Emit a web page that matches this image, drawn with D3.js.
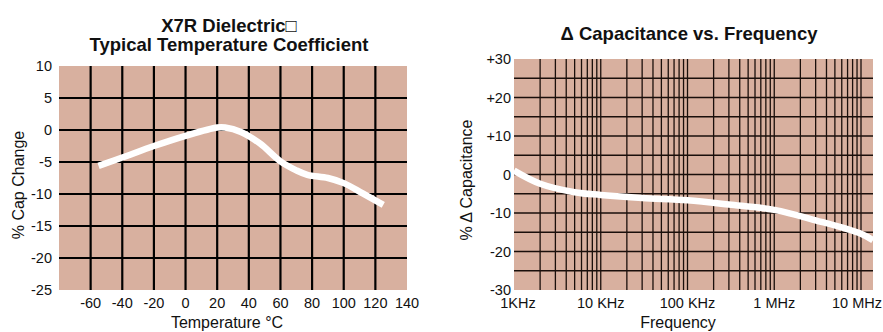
<!DOCTYPE html>
<html>
<head>
<meta charset="utf-8">
<script src="https://cdn.jsdelivr.net/npm/d3@7"></script>
<style>
  body { margin: 0; background: #fff; }
  text { font-family: "Liberation Sans", Arial, Helvetica, sans-serif; fill: #111; }
</style>
</head>
<body>
<svg id="chart" width="883" height="332"></svg>
<script>
// X7R temperature coefficient (left)
const tempC = [-55, -40, -20, 0, 20, 25, 35, 47, 60, 70, 77, 90, 100, 112, 125];
const capChange = [-5.6, -4.3, -2.5, -0.9, 0.4, 0.4, -0.3, -2.1, -4.9, -6.3, -7.0, -7.5, -8.3, -9.9, -11.7];
const tempTicks = [-60, -40, -20, 0, 20, 40, 60, 80, 100, 120, 140];
const capTicks = [10, 5, 0, -5, -10, -15, -20, -25];

// capacitance vs frequency (right)
const freqHz = [1e3, 2e3, 5e3, 1e4, 3e4, 1e5, 3e5, 1e6, 3e6, 1e7, 1.375e7];
const capDelta = [1.0, -2.4, -4.6, -5.3, -6.1, -6.7, -7.8, -9.2, -11.9, -15.4, -17.1];
const freqTicks = [1e3, 1e4, 1e5, 1e6, 1e7];
const freqTickLabels = ['1KHz', '10 KHz', '100 KHz', '1 MHz', '10 MHz'];
const deltaTicks = [30, 20, 10, 0, -10, -20, -30];
const deltaTickLabels = ['+30', '+20', '+10', '0', '-10', '-20', '-30'];

const svg = d3.select('#chart');
const bg = '#d8b09f';

// ---------- left chart ----------
const xT = d3.scaleLinear().domain([-80, 140]).range([59, 407]);
const yT = d3.scaleLinear().domain([-25, 10]).range([290, 66]);

const left = svg.append('g');
left.append('rect')
  .attr('x', xT(-80)).attr('y', yT(10))
  .attr('width', xT(140) - xT(-80)).attr('height', yT(-25) - yT(10))
  .attr('fill', bg);

// grid
left.selectAll('line.v')
  .data(d3.range(-60, 121, 20))
  .join('line')
  .attr('class', 'v')
  .attr('x1', d => xT(d)).attr('x2', d => xT(d))
  .attr('y1', yT(10)).attr('y2', yT(-25))
  .attr('stroke', '#000').attr('stroke-width', 2.2);
left.selectAll('line.h')
  .data(d3.range(-20, 6, 5))
  .join('line')
  .attr('class', 'h')
  .attr('x1', xT(-80)).attr('x2', xT(140))
  .attr('y1', d => yT(d)).attr('y2', d => yT(d))
  .attr('stroke', '#000').attr('stroke-width', 2.2);

left.append('path')
  .datum(tempC.map((t, i) => [t, capChange[i]]))
  .attr('d', d3.line().x(d => xT(d[0])).y(d => yT(d[1])).curve(d3.curveCatmullRom))
  .attr('fill', 'none').attr('stroke', '#fff').attr('stroke-width', 6.5);

// tick labels
left.selectAll('text.yt')
  .data(capTicks)
  .join('text')
  .attr('class', 'yt')
  .attr('x', 52).attr('y', d => yT(d)).attr('dy', '0.35em')
  .attr('text-anchor', 'end').attr('font-size', 14.5)
  .text(d => d);
left.selectAll('text.xt')
  .data(tempTicks)
  .join('text')
  .attr('class', 'xt')
  .attr('x', d => xT(d)).attr('y', 308)
  .attr('text-anchor', 'middle').attr('font-size', 14.5)
  .text(d => d);

left.append('text')
  .attr('x', 229).attr('y', 32)
  .attr('text-anchor', 'middle').attr('font-size', 18.5).attr('font-weight', 'bold')
  .text('X7R Dielectric\u25A1');
left.append('text')
  .attr('x', 229).attr('y', 51)
  .attr('text-anchor', 'middle').attr('font-size', 18.5).attr('font-weight', 'bold')
  .text('Typical Temperature Coefficient');
left.append('text')
  .attr('transform', 'translate(24,185) rotate(-90)')
  .attr('text-anchor', 'middle').attr('font-size', 16)
  .text('% Cap Change');
left.append('text')
  .attr('x', 227).attr('y', 328)
  .attr('text-anchor', 'middle').attr('font-size', 16)
  .text('Temperature °C');

// ---------- right chart ----------
const xF = d3.scaleLog().domain([1e3, 1.375e7]).range([514, 873]);
const yF = d3.scaleLinear().domain([-30, 30]).range([290, 59]);

const right = svg.append('g');
right.append('rect')
  .attr('x', xF.range()[0]).attr('y', yF(30))
  .attr('width', xF.range()[1] - xF.range()[0]).attr('height', yF(-30) - yF(30))
  .attr('fill', bg);

const minor = xF.ticks().filter(d => d > 1e3 && d <= 1e7);
right.selectAll('line.v')
  .data(minor)
  .join('line')
  .attr('class', 'v')
  .attr('x1', d => xF(d)).attr('x2', d => xF(d))
  .attr('y1', yF(30)).attr('y2', yF(-30))
  .attr('stroke', '#1a0f0b').attr('stroke-width', 1.3);
right.selectAll('line.h')
  .data(d3.range(-25, 26, 5))
  .join('line')
  .attr('class', 'h')
  .attr('x1', xF.range()[0]).attr('x2', xF.range()[1])
  .attr('y1', d => yF(d)).attr('y2', d => yF(d))
  .attr('stroke', '#1a0f0b').attr('stroke-width', 1.3);

right.append('path')
  .datum(freqHz.map((f, i) => [f, capDelta[i]]))
  .attr('d', d3.line().x(d => xF(d[0])).y(d => yF(d[1])).curve(d3.curveCatmullRom))
  .attr('fill', 'none').attr('stroke', '#fff').attr('stroke-width', 6.5);

right.selectAll('text.yt')
  .data(deltaTicks)
  .join('text')
  .attr('class', 'yt')
  .attr('x', 511).attr('y', d => yF(d)).attr('dy', '0.35em')
  .attr('text-anchor', 'end').attr('font-size', 14.5)
  .text((d, i) => deltaTickLabels[i]);
right.selectAll('text.xt')
  .data(freqTicks)
  .join('text')
  .attr('class', 'xt')
  .attr('x', d => d === 1e7 ? 882 : xF(d) + (d === 1e3 ? 4 : 0)).attr('y', 308)
  .attr('text-anchor', d => d === 1e7 ? 'end' : 'middle').attr('font-size', 14.5)
  .text((d, i) => freqTickLabels[i]);

right.append('text')
  .attr('x', 689).attr('y', 40)
  .attr('text-anchor', 'middle').attr('font-size', 18.5).attr('font-weight', 'bold')
  .text('\u0394 Capacitance vs. Frequency');
right.append('text')
  .attr('transform', 'translate(472,180) rotate(-90)')
  .attr('text-anchor', 'middle').attr('font-size', 16)
  .text('% \u0394 Capacitance');
right.append('text')
  .attr('x', 678).attr('y', 328)
  .attr('text-anchor', 'middle').attr('font-size', 16)
  .text('Frequency');
</script>
</body>
</html>
